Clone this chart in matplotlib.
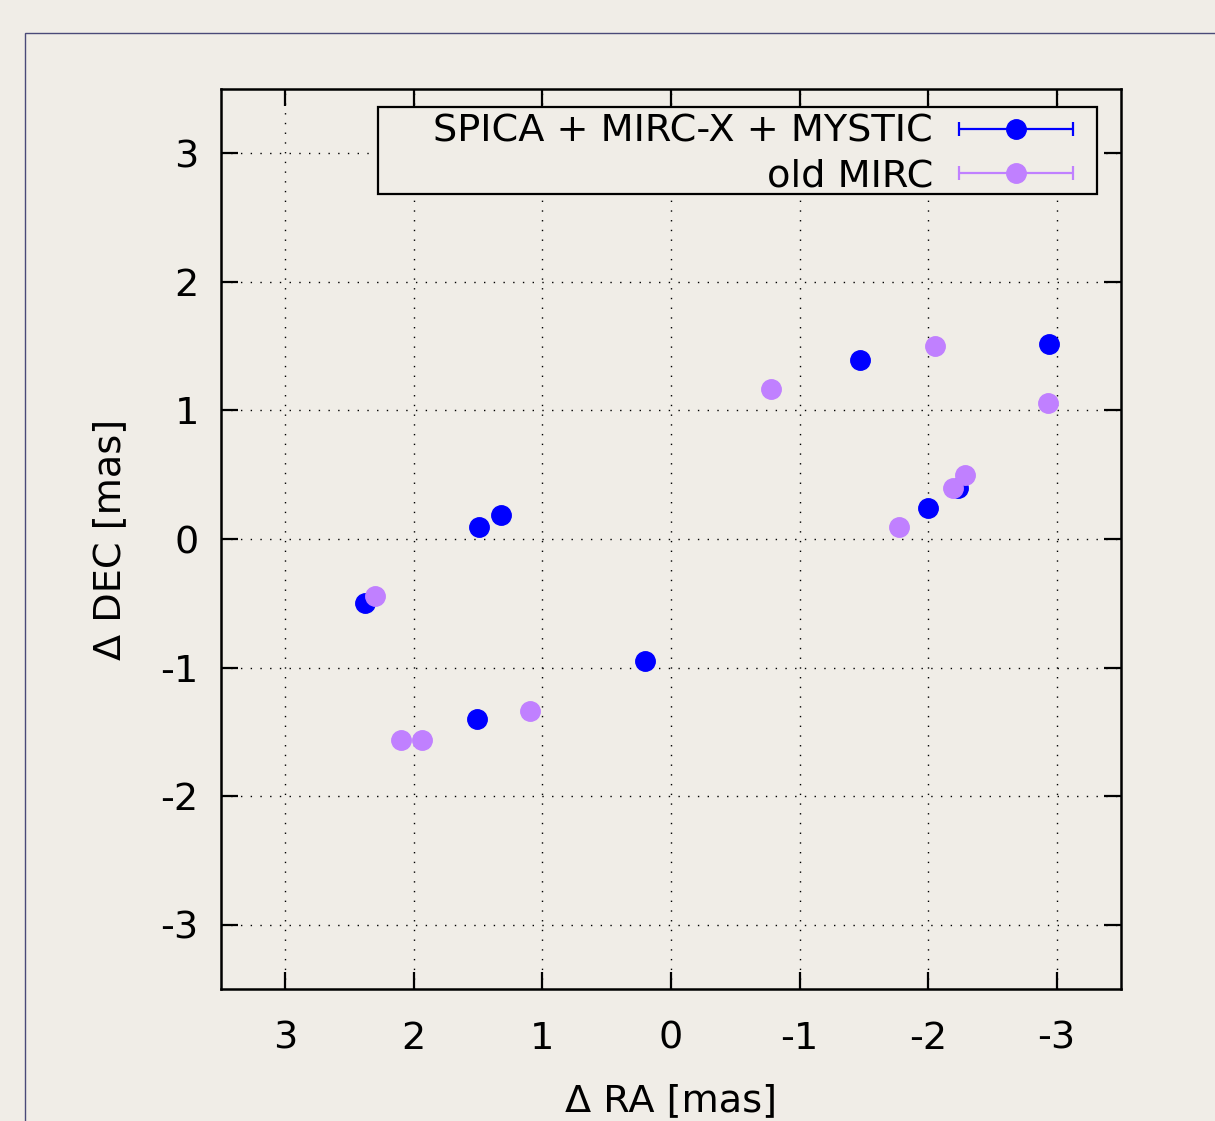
import matplotlib.pyplot as plt
from matplotlib.container import ErrorbarContainer
from matplotlib.legend_handler import HandlerErrorbar
from matplotlib.patches import Rectangle

# relative positions of the companion, mas
new_ra = [2.38, 1.49, 1.32, 0.20, 1.51, -1.47, -2.94, -2.00, -2.23]
new_dec = [-0.50, 0.09, 0.19, -0.95, -1.40, 1.39, 1.52, 0.24, 0.40]
new_err = [0.03, 0.02, 0.02, 0.02, 0.02, 0.02, 0.03, 0.02, 0.02]

old_ra = [2.30, 2.10, 1.94, 1.10, -0.78, -2.05, -2.93, -1.77, -2.19, -2.29]
old_dec = [-0.44, -1.56, -1.56, -1.34, 1.17, 1.50, 1.06, 0.09, 0.40, 0.50]
old_err = [0.02, 0.02, 0.02, 0.02, 0.02, 0.02, 0.02, 0.02, 0.02, 0.02]

ticks = [-3, -2, -1, 0, 1, 2, 3]

bg = '#f0ede7'
fs = 27.5

plt.rcParams['font.family'] = 'DejaVu Sans'
plt.rcParams['axes.unicode_minus'] = False

W, H = 1215, 1121
fig = plt.figure(figsize=(W/100, H/100), dpi=100, facecolor=bg)
ax = fig.add_axes([221/W, 1 - 989/H, 900/W, 900/H])
ax.set_facecolor(bg)

# outer frame (gnuplot canvas border)
fig.patches.append(Rectangle((25/W, -0.1), 1.2, 1 - 33/H + 0.1,
                             transform=fig.transFigure, fill=False,
                             edgecolor='#4a4a78', linewidth=1.0))

ax.errorbar(new_ra, new_dec, xerr=new_err, fmt='o', color='#0000ff',
            markersize=14, elinewidth=1.6, capsize=5, capthick=1.6,
            label='SPICA + MIRC-X + MYSTIC', zorder=3)
ax.errorbar(old_ra, old_dec, xerr=old_err, fmt='o', color='#c080ff',
            markersize=14, elinewidth=1.6, capsize=5, capthick=1.6,
            label='old MIRC', zorder=4)

ax.set_xlim(3.5, -3.5)
ax.set_ylim(-3.5, 3.5)
ax.set_xticks(ticks)
ax.set_yticks(ticks)
ax.grid(True, color='black', linestyle=(0, (1, 6)), linewidth=1.0)
ax.set_axisbelow(True)
ax.tick_params(direction='in', length=12.5, width=1.6, top=True, right=True,
               labelsize=fs)
ax.tick_params(axis='x', pad=23)
ax.tick_params(axis='y', pad=16)
for s in ax.spines.values():
    s.set_linewidth(1.8)

ax.set_xlabel('Δ RA [mas]', fontsize=fs, labelpad=19)
ax.set_ylabel('Δ DEC [mas]', fontsize=fs, labelpad=23)

# legend box drawn as in gnuplot: wide frame, text right-aligned before the sample
ax.add_patch(Rectangle(((378 - 221)/900, (989 - 194)/900), (1097 - 378)/900, 87/900,
                       transform=ax.transAxes, facecolor=bg, edgecolor='black',
                       linewidth=1.6, zorder=5))
leg = ax.legend(loc='upper right', bbox_to_anchor=((1093 - 221)/900, (989 - 114)/900),
                borderaxespad=0, borderpad=0, markerfirst=False, fontsize=fs,
                frameon=False, handlelength=4.03, handletextpad=0.16,
                labelspacing=0.22,
                handler_map={ErrorbarContainer: HandlerErrorbar(xerr_size=1.49)})
leg.set_zorder(6)
for t in leg.get_texts():
    t.set_ha('right')

fig.savefig('out.png', dpi=100, facecolor=bg)
